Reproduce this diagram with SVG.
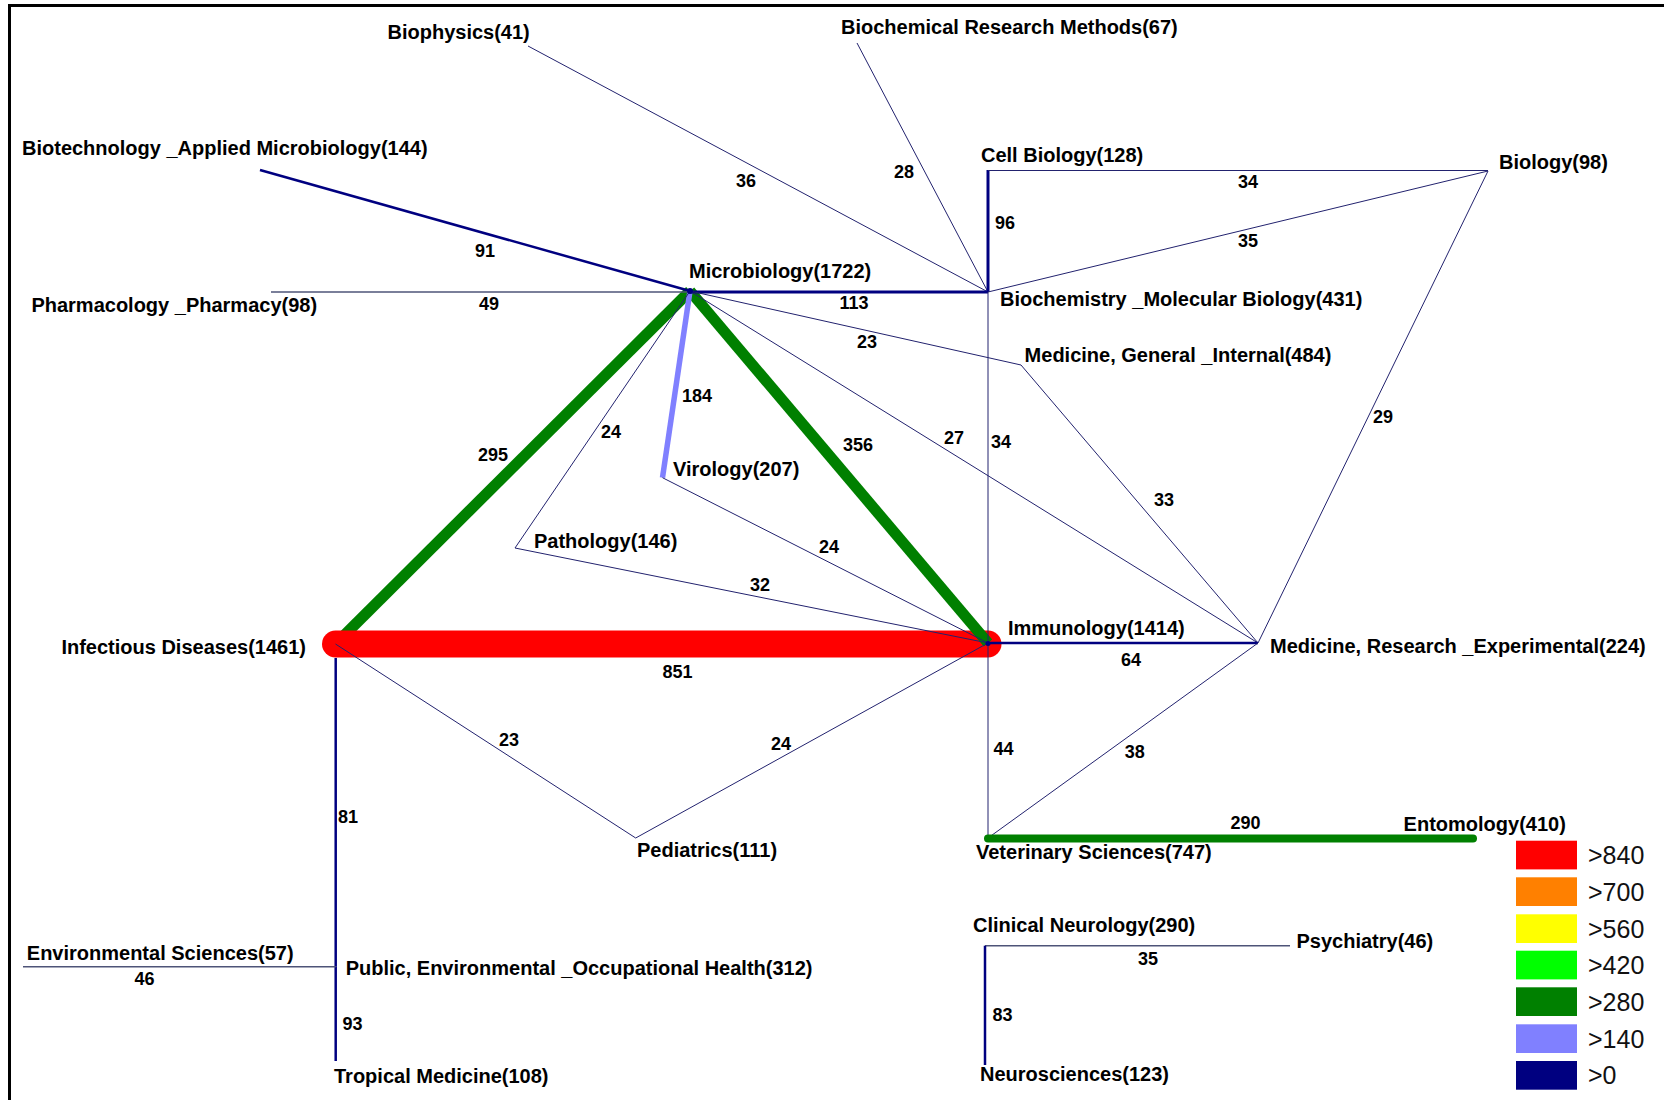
<svg xmlns="http://www.w3.org/2000/svg" width="1664" height="1100" viewBox="0 0 1664 1100">
<style>
text{font-family:"Liberation Sans",Arial,sans-serif;font-weight:bold;fill:#000}
.n{font-size:20px}
.e{font-size:18px;text-anchor:middle}
.lg{font-size:25px;font-weight:normal;fill:#111}
.t{stroke:#22226e;stroke-width:1;fill:none}
.g{stroke:#4e5478;stroke-width:1.4;fill:none}
.m{stroke:#000080;stroke-width:2.5;fill:none}
.m2{stroke:#000080;stroke-width:3;fill:none}
.grn{stroke:#008000;stroke-width:11;fill:none}
</style>
<rect width="1664" height="1100" fill="#fff"/>
<path d="M9.5 1100 V5.5 H1664" fill="none" stroke="#000" stroke-width="3"/>
<g id="connectors">
  <line class="grn" x1="690" y1="291" x2="335.5" y2="644"/>
  <line x1="335.5" y1="644" x2="988" y2="644" stroke="#ff0000" stroke-width="27" stroke-linecap="round"/>
  <line class="grn" x1="690" y1="291" x2="988" y2="643"/>
  <line x1="690" y1="291" x2="662.5" y2="477.7" stroke="#8080ff" stroke-width="5.5"/>
  <line class="t" x1="528" y1="46" x2="988" y2="292"/>
  <line class="t" x1="857" y1="43" x2="988" y2="292"/>
  <line class="m" x1="260" y1="170" x2="690" y2="291"/>
  <line class="g" x1="271" y1="292" x2="690" y2="292"/>
  <line class="m2" x1="690" y1="292" x2="988" y2="292"/>
  <line class="m2" x1="988" y1="170" x2="988" y2="292"/>
  <line class="t" x1="988" y1="170.5" x2="1488" y2="170.5" stroke-width="1.5"/>
  <line class="t" x1="988" y1="292" x2="1488" y2="171" stroke-width="1.3"/>
  <line class="t" x1="1488" y1="171" x2="1258" y2="643"/>
  <line class="t" x1="690" y1="291" x2="1021" y2="365"/>
  <line class="t" x1="1021" y1="365" x2="1258" y2="643"/>
  <line class="t" x1="690" y1="291" x2="1258" y2="643"/>
  <line class="t" x1="988" y1="292" x2="988" y2="643"/>
  <line class="m" x1="988" y1="643" x2="1258" y2="643" stroke-width="2"/>
  <line class="t" x1="988" y1="643" x2="988" y2="838"/>
  <line class="t" x1="1258" y1="643" x2="988" y2="838"/>
  <line x1="988" y1="838.5" x2="1473" y2="838.5" stroke="#008000" stroke-width="8" stroke-linecap="round"/>
  <line class="t" x1="690" y1="291" x2="515" y2="548"/>
  <line class="t" x1="662.5" y1="477.7" x2="988" y2="643"/>
  <line class="t" x1="515" y1="548" x2="988" y2="643"/>
  <line class="t" x1="335.5" y1="644" x2="635.7" y2="838"/>
  <line class="t" x1="635.7" y1="838" x2="988" y2="643"/>
  <line class="m" x1="335.7" y1="658" x2="335.7" y2="966.7" stroke-width="2"/>
  <line class="m" x1="335.7" y1="966.7" x2="335.7" y2="1061"/>
  <line class="g" x1="23" y1="966.7" x2="335.7" y2="966.7"/>
  <line class="g" x1="985" y1="945.7" x2="1290" y2="945.7" stroke-width="1.6"/>
  <line class="m" x1="985" y1="945.7" x2="985" y2="1065" stroke-width="2"/>
</g>
<g id="edge-labels">
  <text class="e" x="746" y="187">36</text>
  <text class="e" x="904" y="178">28</text>
  <text class="e" x="485" y="256.5">91</text>
  <text class="e" x="489" y="309.5">49</text>
  <text class="e" x="1005" y="229">96</text>
  <text class="e" x="1248" y="188">34</text>
  <text class="e" x="1248" y="247">35</text>
  <text class="e" x="854" y="308.5">113</text>
  <text class="e" x="867" y="348">23</text>
  <text class="e" x="697" y="401.5">184</text>
  <text class="e" x="611" y="437.5">24</text>
  <text class="e" x="493" y="460.5">295</text>
  <text class="e" x="858" y="450.5">356</text>
  <text class="e" x="954" y="443.5">27</text>
  <text class="e" x="1001" y="447.5">34</text>
  <text class="e" x="1383" y="423">29</text>
  <text class="e" x="1164" y="505.5">33</text>
  <text class="e" x="829" y="553">24</text>
  <text class="e" x="760" y="590.5">32</text>
  <text class="e" x="1131" y="665.5">64</text>
  <text class="e" x="677.5" y="677.5">851</text>
  <text class="e" x="509" y="745.5">23</text>
  <text class="e" x="781" y="749.5">24</text>
  <text class="e" x="1003.6" y="754.5">44</text>
  <text class="e" x="1134.7" y="757.5">38</text>
  <text class="e" x="348" y="823">81</text>
  <text class="e" x="1245.6" y="828.5">290</text>
  <text class="e" x="1148" y="964.5">35</text>
  <text class="e" x="144.6" y="984.5">46</text>
  <text class="e" x="1002.5" y="1020.5">83</text>
  <text class="e" x="352.5" y="1029.5">93</text>
</g>
<g id="node-biophysics"><text class="n" x="387.5" y="39">Biophysics(41)</text></g>
<g id="node-biochemical-research-methods"><text class="n" x="841" y="34.3">Biochemical Research Methods(67)</text></g>
<g id="node-biotechnology"><text class="n" x="22" y="154.5">Biotechnology _Applied Microbiology(144)</text></g>
<g id="node-cell-biology"><text class="n" x="981" y="161.7">Cell Biology(128)</text></g>
<g id="node-biology"><text class="n" x="1499" y="169">Biology(98)</text></g>
<g id="node-microbiology"><circle cx="690" cy="291" r="3" fill="#000080"/><text class="n" x="689" y="278">Microbiology(1722)</text></g>
<g id="node-pharmacology"><text class="n" x="31.4" y="311.7">Pharmacology _Pharmacy(98)</text></g>
<g id="node-biochemistry"><text class="n" x="1000" y="306">Biochemistry _Molecular Biology(431)</text></g>
<g id="node-medicine-general"><text class="n" x="1024.6" y="362">Medicine, General _Internal(484)</text></g>
<g id="node-virology"><text class="n" x="673" y="476">Virology(207)</text></g>
<g id="node-pathology"><text class="n" x="534" y="548">Pathology(146)</text></g>
<g id="node-immunology"><circle cx="988" cy="643.5" r="2.5" fill="#000080"/><text class="n" x="1008" y="635">Immunology(1414)</text></g>
<g id="node-infectious"><text class="n" x="61.4" y="654">Infectious Diseases(1461)</text></g>
<g id="node-medicine-research"><text class="n" x="1270" y="652.7">Medicine, Research _Experimental(224)</text></g>
<g id="node-pediatrics"><text class="n" x="637" y="856.7">Pediatrics(111)</text></g>
<g id="node-entomology"><text class="n" x="1403.6" y="830.7">Entomology(410)</text></g>
<g id="node-veterinary"><text class="n" x="976" y="859">Veterinary Sciences(747)</text></g>
<g id="node-clinical-neurology"><text class="n" x="973" y="932">Clinical Neurology(290)</text></g>
<g id="node-psychiatry"><text class="n" x="1296.5" y="948">Psychiatry(46)</text></g>
<g id="node-environmental"><text class="n" x="26.8" y="960">Environmental Sciences(57)</text></g>
<g id="node-public-health"><text class="n" x="345.7" y="975">Public, Environmental _Occupational Health(312)</text></g>
<g id="node-neurosciences"><text class="n" x="980" y="1080.7">Neurosciences(123)</text></g>
<g id="node-tropical"><text class="n" x="334" y="1083">Tropical Medicine(108)</text></g>
<g id="legend">
  <rect x="1516" y="840.7" width="61" height="28.7" fill="#ff0000"/>
  <rect x="1516" y="877.3" width="61" height="28.7" fill="#ff8000"/>
  <rect x="1516" y="914.3" width="61" height="28.7" fill="#ffff00"/>
  <rect x="1516" y="950.7" width="61" height="28.7" fill="#00ff00"/>
  <rect x="1516" y="987.3" width="61" height="28.7" fill="#008000"/>
  <rect x="1516" y="1024.3" width="61" height="28.7" fill="#8080ff"/>
  <rect x="1516" y="1061" width="61" height="28.7" fill="#000080"/>
  <text class="lg" x="1588" y="864">&gt;840</text>
  <text class="lg" x="1588" y="900.5">&gt;700</text>
  <text class="lg" x="1588" y="937.5">&gt;560</text>
  <text class="lg" x="1588" y="974">&gt;420</text>
  <text class="lg" x="1588" y="1010.5">&gt;280</text>
  <text class="lg" x="1588" y="1047.5">&gt;140</text>
  <text class="lg" x="1588" y="1084">&gt;0</text>
</g>
</svg>
